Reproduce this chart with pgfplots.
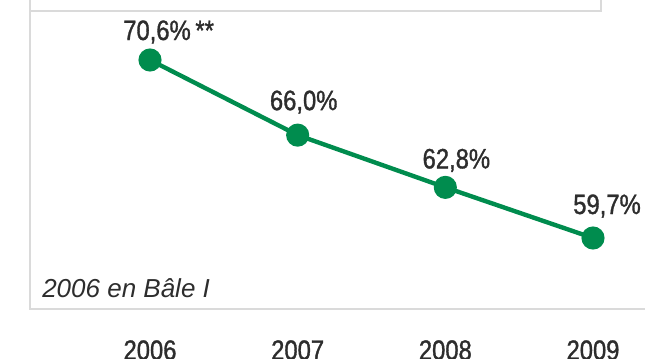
\documentclass[border=0pt]{standalone}
\usepackage{fontspec}
\setmainfont{Liberation Sans}
\newfontfamily\cond[FakeStretch=0.85, FakeBold=1.2]{Liberation Sans}
\usepackage{pgfplots}
\pgfplotsset{compat=1.18}
\definecolor{vert}{RGB}{0,140,78}
\definecolor{txt}{RGB}{45,45,45}
\definecolor{cadre}{RGB}{218,218,218}
\begin{document}
\begin{tikzpicture}
\begin{axis}[
  scale only axis, width=483.75pt, height=268.5pt,
  xmin=2004.9842, xmax=2009.3521, ymin=52.352, ymax=74.274,
  hide axis, clip=false,
]
% frames
\draw[cadre, line width=1.6pt] (rel axis cs:0.04651,1) -- (rel axis cs:0.04651,0.13687) -- (rel axis cs:1,0.13687);
\draw[cadre, line width=1.6pt] (rel axis cs:0.04651,0.96927) -- (rel axis cs:0.93178,0.96927) -- (rel axis cs:0.93178,1);
% data
\addplot[vert, line width=3.3pt, mark=*, mark size=7pt, mark options={draw=none, fill=vert}] coordinates {
  (2006,70.6) (2007,66.0) (2008,62.8) (2009,59.7)
};
% value labels
\tikzset{vl/.style={anchor=base, inner sep=0pt, text=txt, font=\cond\fontsize{21}{24}\selectfont}}
\node[vl, xshift=5.25pt, yshift=15pt] at (axis cs:2006,70.6) {70,6\%\rlap{\,**}};
\node[vl, xshift=4.5pt, yshift=18.75pt] at (axis cs:2007,66.0) {66,0\%};
\node[vl, xshift=8.25pt, yshift=14.25pt] at (axis cs:2008,62.8) {62,8\%};
\node[vl, xshift=10.5pt, yshift=18pt] at (axis cs:2009,59.7) {59,7\%};
% note
\node[anchor=base west, inner sep=0pt, text=txt, font=\itshape\fontsize{19.5}{22}\selectfont] at (rel axis cs:0.06512,0.17039) {2006 en Bâle I};
% years
\tikzset{yl/.style={anchor=north, inner sep=0pt, text=txt, font=\cond\fontsize{21}{24}\selectfont}}
\node[yl] at (axis cs:2006,53.454) {2006};
\node[yl] at (axis cs:2007,53.454) {2007};
\node[yl] at (axis cs:2008,53.454) {2008};
\node[yl] at (axis cs:2009,53.454) {2009};
\end{axis}
\pgfresetboundingbox
\path[use as bounding box] (current axis.south west) rectangle (current axis.north east);
\end{tikzpicture}
\end{document}
